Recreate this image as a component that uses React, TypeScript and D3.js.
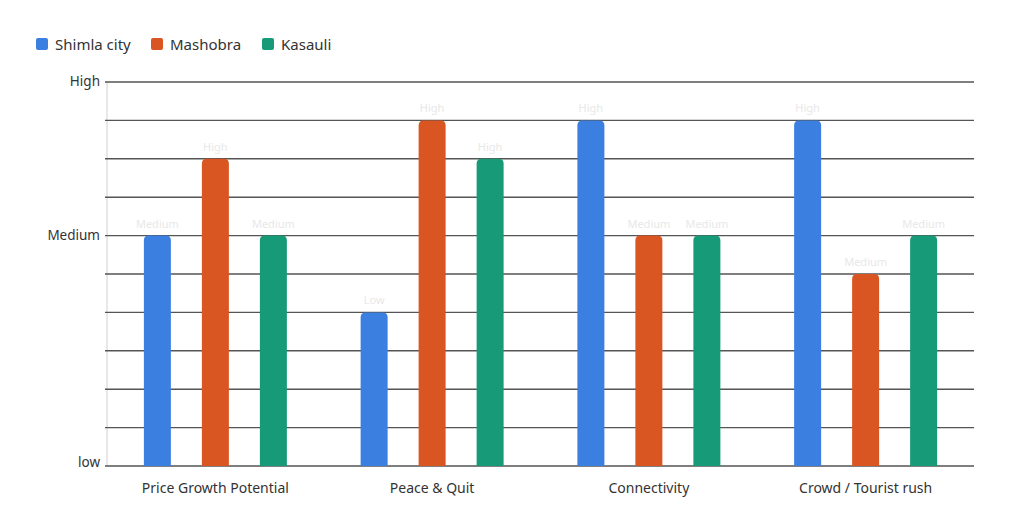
import React from "react";
import * as d3 from "d3";

const categories = ["Price Growth Potential", "Peace & Quit", "Connectivity", "Crowd / Tourist rush"];
const seriesNames = ["Shimla city", "Mashobra", "Kasauli"];
const seriesColors = ["#3b7fe0", "#d95623", "#179a77"];
const shimla = [6, 4, 9, 9];
const mashobra = [8, 9, 6, 5];
const kasauli = [6, 8, 6, 6];
const shimlaLabels = ["Medium", "Low", "High", "High"];
const mashobraLabels = ["High", "High", "Medium", "Medium"];
const kasauliLabels = ["Medium", "High", "Medium", "Medium"];
const yTickValues = [0, 6, 10];
const yTickLabels = ["low", "Medium", "High"];
const gridValues = d3.range(0, 11);

const W = 1024;
const H = 521;
const left = 107;
const right = 974;
const top = 82;
const bottom = 466;
const font = "'Noto Sans', sans-serif";

function roundedTopRect(x: number, y: number, w: number, h: number, r: number) {
  const rr = Math.min(r, h, w / 2);
  return `M${x},${y + h}V${y + rr}Q${x},${y} ${x + rr},${y}H${x + w - rr}Q${x + w},${y} ${x + w},${y + rr}V${y + h}Z`;
}

export default function App() {
  const x = d3.scaleBand<string>().domain(categories).range([left, right]);
  const y = d3.scaleLinear().domain([0, 10]).range([bottom, top]);
  const series = [shimla, mashobra, kasauli];
  const labels = [shimlaLabels, mashobraLabels, kasauliLabels];
  const barW = 27;
  const step = 58;
  const legendX = [36, 151, 262];

  return (
    <svg width={W} height={H} style={{ position: "absolute", left: 0, top: 0, background: "#fff" }} fontFamily={font}>
      {/* legend */}
      {seriesNames.map((n, i) => (
        <g key={n}>
          <rect x={legendX[i]} y={38} width={12} height={12} rx={2} fill={seriesColors[i]} />
          <text x={legendX[i] + 19} y={49.5} fontSize={15} fill="#333">{n}</text>
        </g>
      ))}
      {/* y axis line */}
      <line x1={left} x2={left} y1={top} y2={bottom} stroke="#d0d0d0" strokeWidth={1} />
      {/* grid */}
      {gridValues.map((v) => (
        <line key={v} x1={left - 2} x2={right} y1={y(v)} y2={y(v)} stroke="#555" strokeWidth={1.4} />
      ))}
      {/* y tick labels */}
      {yTickValues.map((v, i) => (
        <text key={v} x={100} y={y(v) + (v === 0 ? 1 : 4)} textAnchor="end" fontSize={13.5} fill="#333">
          {yTickLabels[i]}
        </text>
      ))}
      {/* bars */}
      {categories.map((c, ci) => {
        const cx = (x(c) as number) + x.bandwidth() / 2;
        return (
          <g key={c}>
            {series.map((s, si) => {
              const bx = cx + (si - 1) * step - barW / 2;
              const by = y(s[ci]);
              return (
                <g key={si}>
                  <path d={roundedTopRect(bx, by, barW, bottom - by, 5)} fill={seriesColors[si]} />
                  <text x={bx + barW / 2} y={by - 8} textAnchor="middle" fontSize={11} fill="#e8e8e8">
                    {labels[si][ci]}
                  </text>
                </g>
              );
            })}
            <text x={cx} y={493} textAnchor="middle" fontSize={14} fill="#333">{c}</text>
          </g>
        );
      })}
    </svg>
  );
}
